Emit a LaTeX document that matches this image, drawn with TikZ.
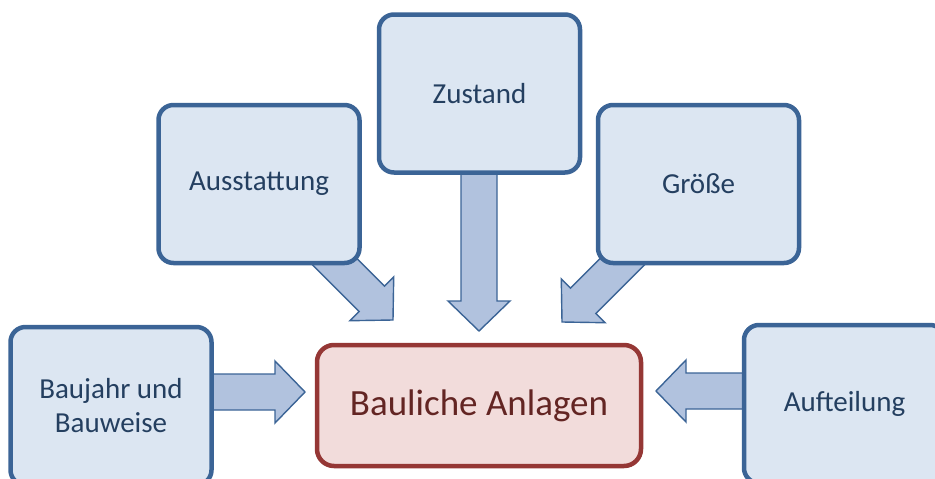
\documentclass[tikz,border=0pt]{standalone}
\usepackage{fontspec}
\setmainfont{Carlito}
\usetikzlibrary{calc}
\definecolor{bborder}{HTML}{3B6496}
\definecolor{bfill}{HTML}{DCE6F2}
\definecolor{btext}{HTML}{243F60}
\definecolor{afill}{HTML}{B1C2DE}
\definecolor{rborder}{HTML}{953735}
\definecolor{rfill}{HTML}{F2DCDB}
\definecolor{rtext}{HTML}{632523}
\newcommand\blockarr[2]{%
  \path ($(#2)!30pt!(#1)$) coordinate (bp);
  \draw[arrowsty] ($(#1)!18pt!90:(#2)$) -- ($(bp)!18pt!90:(#2)$) -- ($(bp)!31pt!90:(#2)$)
    -- (#2) -- ($(bp)!31pt!-90:(#2)$) -- ($(bp)!18pt!-90:(#2)$) -- ($(#1)!18pt!-90:(#2)$) -- cycle;}
\begin{document}
\begin{tikzpicture}[x=1pt,y=-1pt,
  bluebox/.style={draw=bborder,fill=bfill,line width=4.5pt,rounded corners=15pt,
    text=btext,font=\fontsize{29}{34}\selectfont,align=center,inner sep=0pt,
    minimum width=201pt,minimum height=158pt},
  redbox/.style={draw=rborder,fill=rfill,line width=4.5pt,rounded corners=17pt,
    text=rtext,font=\fontsize{37}{44}\selectfont,inner sep=0pt,
    minimum width=324pt,minimum height=121pt},
  arrowsty/.style={draw=bborder,fill=afill,line width=1.4pt,line join=miter}]
\useasboundingbox (0,0) rectangle (935,479);
\clip (0,0) rectangle (935,479);
% arrow endpoints
\coordinate (bauS) at (180,392);
\coordinate (bauT) at (305,392);
\coordinate (aufS) at (780,391);
\coordinate (aufT) at (656,391);
\coordinate (zusS) at (479,150);
\coordinate (zusT) at (479,331);
\coordinate (ausS) at (320,247);
\coordinate (ausT) at (393,320);
\coordinate (groS) at (640,244);
\coordinate (groT) at (562,322);
\blockarr{bauS}{bauT}
\blockarr{aufS}{aufT}
\blockarr{zusS}{zusT}
\blockarr{ausS}{ausT}
\blockarr{groS}{groT}
% boxes
\node[bluebox] (aus) at (259,184) {Ausstattung};
\node[bluebox] (zus) at (479.5,93.5) {Zustand};
\node[bluebox] (gro) at (698.5,184) {Größe};
\node[bluebox] (bau) at (111,406) {Baujahr und\\Bauweise};
\node[bluebox] (auf) at (844.5,404) {Aufteilung};
\node[redbox] (ctr) at (479,405.5) {Bauliche Anlagen};
\end{tikzpicture}
\end{document}
